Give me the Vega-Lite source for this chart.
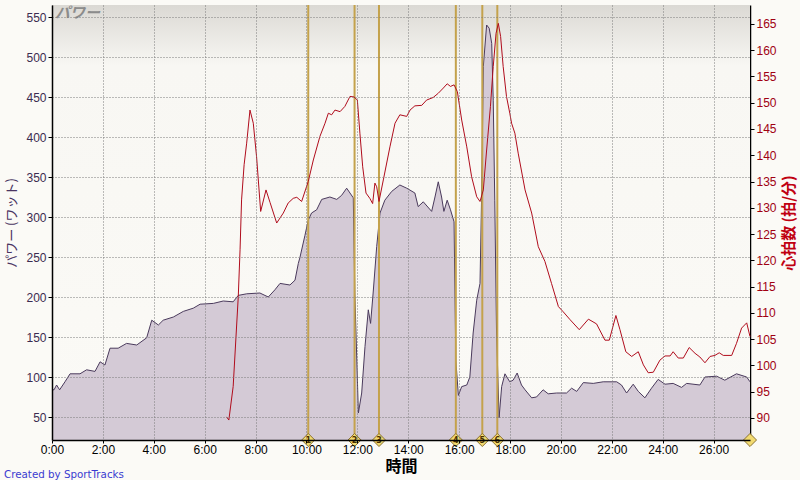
{
  "$schema": "https://vega.github.io/schema/vega-lite/v6.json",
  "width": 698,
  "height": 435,
  "autosize": {"type": "none"},
  "padding": {"left": 52, "top": 5, "right": 50, "bottom": 40},
  "background": "#fbfaf6",
  "config": {"view": {"stroke": null}, "font": "DejaVu Sans"},
  "title": {"text": "Created by SportTracks", "orient": "bottom", "anchor": "start", "frame": "group", "dx": -48, "offset": -4, "fontSize": 10.3, "font": "DejaVu Sans", "fontWeight": "normal", "color": "#3a3ad0"},
  "datasets": {
    "power": [
      {"t":0.0,"w":84},{"t":0.08,"w":84},{"t":0.18,"w":90},{"t":0.3,"w":84},{"t":0.51,"w":94},{"t":0.71,"w":104},{"t":1.1,"w":104},{"t":1.36,"w":109},{"t":1.69,"w":107},{"t":1.89,"w":119},{"t":2.08,"w":115},{"t":2.28,"w":136},{"t":2.6,"w":136},{"t":2.93,"w":142},{"t":3.33,"w":140},{"t":3.72,"w":149},{"t":3.92,"w":171},{"t":4.18,"w":165},{"t":4.37,"w":171},{"t":4.77,"w":175},{"t":5.16,"w":182},{"t":5.55,"w":186},{"t":5.82,"w":191},{"t":6.34,"w":192},{"t":6.73,"w":195},{"t":7.12,"w":194},{"t":7.32,"w":202},{"t":7.65,"w":204},{"t":8.17,"w":205},{"t":8.5,"w":200},{"t":8.76,"w":209},{"t":8.96,"w":217},{"t":9.35,"w":215},{"t":9.55,"w":221},{"t":9.68,"w":242},{"t":9.74,"w":249},{"t":9.94,"w":277},{"t":10.07,"w":296},{"t":10.2,"w":305},{"t":10.4,"w":309},{"t":10.6,"w":322},{"t":10.92,"w":325},{"t":11.19,"w":322},{"t":11.38,"w":327},{"t":11.58,"w":336},{"t":11.71,"w":330},{"t":11.84,"w":324},{"t":11.9,"w":205},{"t":12.04,"w":55},{"t":12.17,"w":80},{"t":12.3,"w":138},{"t":12.43,"w":184},{"t":12.52,"w":167},{"t":12.62,"w":205},{"t":12.76,"w":263},{"t":12.89,"w":305},{"t":13.08,"w":321},{"t":13.35,"w":332},{"t":13.67,"w":340},{"t":13.94,"w":336},{"t":14.26,"w":330},{"t":14.39,"w":313},{"t":14.59,"w":319},{"t":14.92,"w":307},{"t":15.05,"w":325},{"t":15.18,"w":344},{"t":15.31,"w":325},{"t":15.4,"w":307},{"t":15.53,"w":321},{"t":15.66,"w":309},{"t":15.8,"w":294},{"t":15.87,"w":121},{"t":15.97,"w":77},{"t":16.1,"w":88},{"t":16.3,"w":90},{"t":16.42,"w":100},{"t":16.55,"w":155},{"t":16.69,"w":196},{"t":16.82,"w":217},{"t":16.88,"w":321},{"t":16.95,"w":488},{"t":17.08,"w":540},{"t":17.18,"w":536},{"t":17.28,"w":517},{"t":17.34,"w":446},{"t":17.4,"w":321},{"t":17.47,"w":155},{"t":17.57,"w":49},{"t":17.67,"w":88},{"t":17.8,"w":104},{"t":17.99,"w":94},{"t":18.12,"w":96},{"t":18.28,"w":105},{"t":18.45,"w":90},{"t":18.59,"w":84},{"t":18.85,"w":74},{"t":19.04,"w":75},{"t":19.3,"w":84},{"t":19.5,"w":79},{"t":19.83,"w":80},{"t":20.22,"w":80},{"t":20.42,"w":86},{"t":20.62,"w":82},{"t":20.88,"w":93},{"t":21.27,"w":92},{"t":21.66,"w":94},{"t":22.19,"w":94},{"t":22.38,"w":90},{"t":22.58,"w":80},{"t":22.84,"w":91},{"t":23.04,"w":82},{"t":23.3,"w":74},{"t":23.56,"w":86},{"t":23.82,"w":97},{"t":24.09,"w":91},{"t":24.41,"w":92},{"t":24.74,"w":87},{"t":24.94,"w":92},{"t":25.46,"w":90},{"t":25.66,"w":100},{"t":26.12,"w":101},{"t":26.44,"w":96},{"t":26.9,"w":104},{"t":27.3,"w":100},{"t":27.43,"w":94}
    ],
    "hr": [
      {"t":6.86,"hr":90.2},{"t":6.95,"hr":89.6},{"t":7.12,"hr":96},{"t":7.32,"hr":113.1},{"t":7.39,"hr":122},{"t":7.45,"hr":131.5},{"t":7.55,"hr":138.2},{"t":7.65,"hr":142.3},{"t":7.78,"hr":148.6},{"t":7.91,"hr":146.1},{"t":8.04,"hr":139.7},{"t":8.2,"hr":129.3},{"t":8.41,"hr":133.4},{"t":8.57,"hr":131},{"t":8.83,"hr":127.1},{"t":9.09,"hr":129},{"t":9.28,"hr":130.9},{"t":9.48,"hr":131.8},{"t":9.62,"hr":132},{"t":9.81,"hr":131.2},{"t":10.07,"hr":135},{"t":10.27,"hr":139.1},{"t":10.53,"hr":143.6},{"t":10.73,"hr":146.1},{"t":10.86,"hr":148},{"t":10.99,"hr":147.7},{"t":11.12,"hr":148.6},{"t":11.32,"hr":148.3},{"t":11.51,"hr":149.3},{"t":11.71,"hr":151.2},{"t":11.87,"hr":151.1},{"t":12.0,"hr":150.5},{"t":12.1,"hr":144.2},{"t":12.21,"hr":137.8},{"t":12.34,"hr":132.8},{"t":12.49,"hr":131.8},{"t":12.6,"hr":130.8},{"t":12.69,"hr":134.7},{"t":12.76,"hr":134},{"t":12.85,"hr":131.2},{"t":13.02,"hr":135.3},{"t":13.28,"hr":141.6},{"t":13.48,"hr":146.1},{"t":13.67,"hr":147.7},{"t":13.94,"hr":147.4},{"t":14.07,"hr":148.6},{"t":14.26,"hr":149.4},{"t":14.53,"hr":149.5},{"t":14.72,"hr":150.5},{"t":14.98,"hr":151},{"t":15.18,"hr":151.8},{"t":15.38,"hr":152.8},{"t":15.53,"hr":153.6},{"t":15.66,"hr":153.1},{"t":15.8,"hr":153.4},{"t":15.93,"hr":152.1},{"t":16.1,"hr":146.7},{"t":16.3,"hr":141.6},{"t":16.49,"hr":135.9},{"t":16.69,"hr":132.1},{"t":16.82,"hr":131.2},{"t":16.95,"hr":133.4},{"t":17.08,"hr":141},{"t":17.23,"hr":149.3},{"t":17.34,"hr":156.9},{"t":17.45,"hr":163.2},{"t":17.54,"hr":165.1},{"t":17.63,"hr":162.6},{"t":17.73,"hr":156.9},{"t":17.86,"hr":151.2},{"t":17.99,"hr":148},{"t":18.06,"hr":146.1},{"t":18.19,"hr":144.2},{"t":18.32,"hr":140.4},{"t":18.59,"hr":133.4},{"t":18.85,"hr":129},{"t":19.11,"hr":122.6},{"t":19.37,"hr":119.8},{"t":19.63,"hr":115.6},{"t":19.9,"hr":111.2},{"t":20.09,"hr":110.2},{"t":20.36,"hr":108.7},{"t":20.72,"hr":106.8},{"t":21.08,"hr":108.8},{"t":21.4,"hr":107.9},{"t":21.73,"hr":104.8},{"t":21.9,"hr":104.8},{"t":22.16,"hr":109.5},{"t":22.32,"hr":106.8},{"t":22.55,"hr":102.6},{"t":22.78,"hr":101.7},{"t":23.04,"hr":102.6},{"t":23.24,"hr":100.1},{"t":23.43,"hr":98.6},{"t":23.63,"hr":98.7},{"t":23.89,"hr":101},{"t":24.09,"hr":101.8},{"t":24.29,"hr":101.8},{"t":24.41,"hr":102.6},{"t":24.61,"hr":101.4},{"t":24.81,"hr":101.4},{"t":25.04,"hr":103.4},{"t":25.27,"hr":102.3},{"t":25.46,"hr":101.6},{"t":25.66,"hr":100.5},{"t":25.86,"hr":101.7},{"t":26.05,"hr":101.9},{"t":26.22,"hr":102.4},{"t":26.38,"hr":101.9},{"t":26.71,"hr":101.9},{"t":26.9,"hr":104.2},{"t":27.1,"hr":107.1},{"t":27.3,"hr":108.1},{"t":27.43,"hr":105.5}
    ],
    "laps": [
      {"t":10.07,"lap":"1"},{"t":11.89,"lap":"2"},{"t":12.85,"lap":"3"},{"t":15.87,"lap":"4"},{"t":16.91,"lap":"5"},{"t":17.5,"lap":"6"},{"t":27.43,"lap":""}
    ]
  },
  "layer": [
    {
      "data": {"values": [{"a": 1}]},
      "mark": {"type": "rect", "color": {"gradient": "linear", "x1": 0, "y1": 0, "x2": 0, "y2": 1, "stops": [{"offset": 0, "color": "#dbd9d4"}, {"offset": 0.14, "color": "#f8f7f3"}, {"offset": 1, "color": "#fbfaf6"}]}},
      "encoding": {
        "y": {"datum": 565, "type": "quantitative", "scale": {"domain": [21.25, 565], "nice": false, "zero": false}, "axis": null},
        "y2": {"datum": 21.25}
      }
    },
    {
      "data": {"name": "power"},
      "mark": {"type": "area", "color": "#d4cad6", "opacity": 1, "clip": true, "line": {"color": "#4a3a5c", "strokeWidth": 1}},
      "encoding": {
        "x": {"field": "t", "type": "quantitative", "scale": {"domain": [0, 27.43], "nice": false, "zero": false},
          "axis": {"values": [0,2,4,6,8,10,12,14,16,18,20,22,24,26], "labelExpr": "datum.value + ':00'", "labelFlush": false, "labelOverlap": false, "grid": true, "gridDash": [1, 2], "gridColor": "#7a7a7a", "gridOpacity": 1, "zindex": 1, "domainColor": "#000000", "domainWidth": 1.5, "ticks": true, "tickSize": 3, "tickColor": "#000000", "labelColor": "#000000", "labelFont": "Liberation Sans", "labelFontSize": 12, "labelPadding": 1, "title": "時間", "titleFont": "Noto Sans CJK JP", "titleFontSize": 16, "titleFontWeight": "bold", "titleColor": "#000000", "titlePadding": 3}},
        "y": {"field": "w", "type": "quantitative", "scale": {"domain": [21.25, 565], "nice": false, "zero": false},
          "axis": {"orient": "left", "values": [50,100,150,200,250,300,350,400,450,500,550], "labelFlush": false, "labelOverlap": false, "grid": true, "gridDash": [1, 2], "gridColor": "#7a7a7a", "gridOpacity": 1, "zindex": 1, "domainColor": "#000000", "domainWidth": 1.5, "tickColor": "#000000", "tickSize": 4, "labelColor": "#3b2b50", "labelFont": "Liberation Sans", "labelFontSize": 12, "labelPadding": 2, "title": "パワー (ワット)", "titleFont": "Noto Sans CJK JP", "titleFontSize": 13, "titleFontWeight": "normal", "titleColor": "#4a3462", "titlePadding": 7}}
      }
    },
    {
      "data": {"name": "laps"},
      "transform": [{"filter": "datum.lap != ''"}],
      "mark": {"type": "rule", "color": "#c4a24c", "strokeWidth": 2},
      "encoding": {"x": {"field": "t", "type": "quantitative"}}
    },
    {
      "data": {"name": "hr"},
      "mark": {"type": "line", "color": "#b00c1c", "strokeWidth": 1},
      "encoding": {
        "x": {"field": "t", "type": "quantitative"},
        "y": {"field": "hr", "type": "quantitative", "scale": {"domain": [85.8, 168.6], "nice": false, "zero": false},
          "axis": {"orient": "right", "values": [90,95,100,105,110,115,120,125,130,135,140,145,150,155,160,165], "labelFlush": false, "labelOverlap": false, "grid": false, "domainColor": "#000000", "domainWidth": 1.5, "tickColor": "#000000", "tickSize": 4, "labelColor": "#a00012", "labelFont": "Liberation Sans", "labelFontSize": 12, "labelPadding": 2, "title": "心拍数 (拍/分)", "titleAngle": 270, "titleFont": "Noto Sans CJK JP", "titleFontSize": 15, "titleFontWeight": "bold", "titleColor": "#c00010", "titlePadding": 20}}
      }
    },
    {
      "data": {"name": "laps"},
      "mark": {"type": "point", "shape": "diamond", "filled": true, "size": 170, "color": "#f2da70", "stroke": "#8a7030", "strokeWidth": 1, "opacity": 1},
      "encoding": {"x": {"field": "t", "type": "quantitative"}, "y": {"datum": 21.25, "type": "quantitative", "scale": {"domain": [21.25, 565], "nice": false, "zero": false}, "axis": null}}
    },
    {
      "data": {"name": "laps"},
      "mark": {"type": "text", "fontSize": 8, "fontWeight": "bold", "font": "DejaVu Sans", "color": "#4a3000", "align": "center", "baseline": "middle", "dy": 0.5},
      "encoding": {"x": {"field": "t", "type": "quantitative"}, "y": {"datum": 21.25, "type": "quantitative", "scale": {"domain": [21.25, 565], "nice": false, "zero": false}, "axis": null}, "text": {"field": "lap"}}
    },
    {
      "data": {"values": [{"label": "パワー"}]},
      "mark": {"type": "text", "align": "left", "baseline": "top", "dx": 3, "dy": 1, "fontSize": 15, "fontStyle": "italic", "fontWeight": "bold", "font": "Noto Sans CJK JP", "color": "#8c8c8c"},
      "encoding": {"x": {"datum": 0, "type": "quantitative"}, "y": {"datum": 565, "type": "quantitative", "scale": {"domain": [21.25, 565], "nice": false, "zero": false}, "axis": null}, "text": {"field": "label"}}
    }
  ],
  "resolve": {"scale": {"y": "independent"}}
}
